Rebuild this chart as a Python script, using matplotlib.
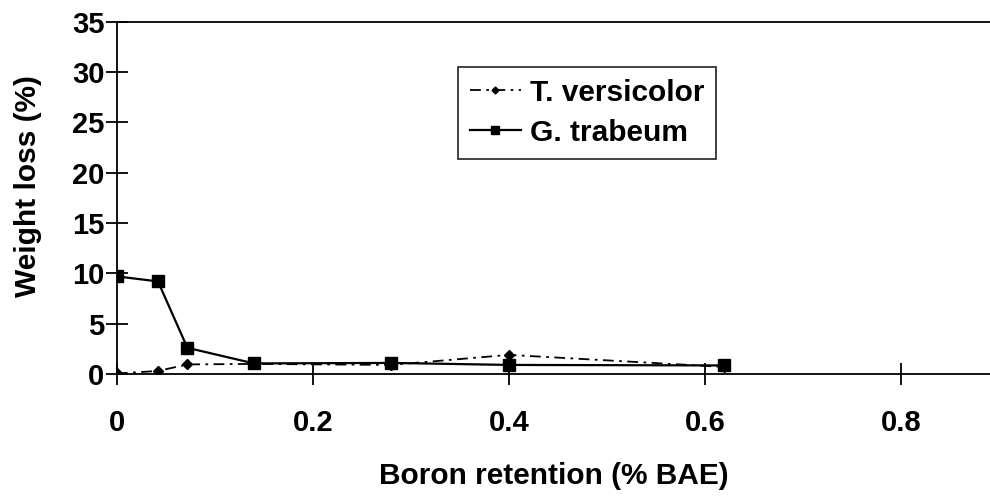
import matplotlib.pyplot as plt

plt.rcParams['font.family'] = ['Liberation Sans', 'DejaVu Sans']
plt.rcParams['font.weight'] = 'bold'

boron = [0, 0.042, 0.072, 0.14, 0.28, 0.40, 0.62]
versicolor = [0.05, 0.3, 0.95, 1.0, 0.9, 1.9, 0.7]
trabeum = [9.7, 9.2, 2.6, 1.05, 1.1, 0.9, 0.85]

fig = plt.figure(figsize=(9.9, 4.96), dpi=100)
ax = fig.add_axes([0.118, 0.246, 0.882, 0.71])

ax.plot(boron, versicolor, color='black', linestyle=(0, (6, 3, 1.5, 3)), linewidth=1.3,
        marker='D', markersize=5, label='T. versicolor')
ax.plot(boron, trabeum, color='black', linestyle='-', linewidth=1.6,
        marker='s', markersize=8, label='G. trabeum')

ax.set_xlim(0, 0.891)
ax.set_ylim(0, 35)
ax.set_xticks([0, 0.2, 0.4, 0.6, 0.8])
ax.set_xticklabels(['0', '0.2', '0.4', '0.6', '0.8'])
ax.set_yticks(range(0, 36, 5))
ax.tick_params(axis='both', direction='inout', length=16, width=1.3, labelsize=21)
ax.tick_params(axis='x', pad=17)
ax.tick_params(axis='y', pad=1)
for s in ax.spines.values():
    s.set_linewidth(1.3)
ax.spines['right'].set_visible(False)

ax.set_xlabel('Boron retention (% BAE)', fontsize=21.5, fontweight='bold', labelpad=18)
ax.set_ylabel('Weight loss (%)', fontsize=21.5, fontweight='bold')
ax.yaxis.set_label_coords(-0.086, 0.534)

leg = ax.legend(loc='upper left', bbox_to_anchor=(458 / 990, 1 - 67 / 496),
                bbox_transform=fig.transFigure, fontsize=21.5, frameon=True,
                fancybox=False, edgecolor='black', handlelength=1.7, markerscale=0.7,
                handletextpad=0.3, borderpad=0.4, labelspacing=0.4, borderaxespad=0)
leg.get_frame().set_linewidth(1.3)
for t in leg.get_texts():
    t.set_fontweight('bold')

fig.savefig('out.png', dpi=100)
